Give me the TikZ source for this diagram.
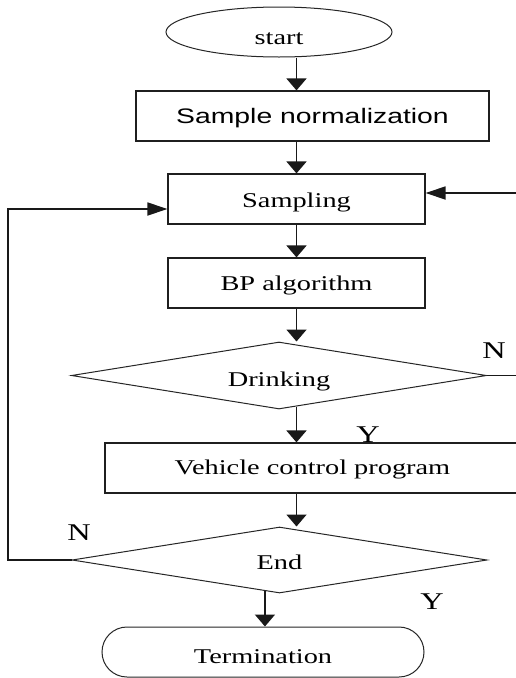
\documentclass[tikz,border=0pt]{standalone}
\usepackage{graphicx}
\usepackage{fontspec}
\setmainfont{Liberation Serif}
\newfontfamily\arialf{Liberation Sans}
\usetikzlibrary{shapes.geometric,arrows.meta,calc}
\newcommand\stx[1]{\scalebox{1.35}[1]{#1}}
\newcommand\blt[2]{\raisebox{-#1pt}[0pt][0pt]{\stx{#2}}}
\begin{document}
\begin{tikzpicture}[x=1pt,y=-1pt,
  txt/.style={font=\fontsize{21}{24}\selectfont, text=black},
  box/.style={draw=black!88, line width=1.2pt, rectangle, minimum height=50pt, inner sep=0pt, txt},
  oval/.style={draw=black!85, line width=1pt, ellipse, inner sep=0pt, txt},
  stadium/.style={draw=black!85, line width=1pt, rectangle, rounded corners=25pt, minimum height=50pt, inner sep=0pt, txt},
  decis/.style={draw=black!85, line width=1pt, diamond, aspect=6.2, inner sep=0pt, txt},
  lab/.style={font=\fontsize{24}{26}\selectfont, text=black, inner sep=0pt},
  varr/.style={draw=black!90, line width=1.8pt, -{Triangle[width=20pt,length=12pt]}},
  harr/.style={draw=black!90, line width=1.8pt, -{Triangle[width=13pt,length=20pt]}}]
\useasboundingbox (0,0) rectangle (516,678);
\clip (0,0) rectangle (516,678);
\fill[white] (0,0) rectangle (516,678);

% nodes
\node[oval, minimum width=226pt, minimum height=50pt] (start) at (279,32) {\blt{12}{start}};
\node[box, minimum width=353pt] (norm) at (312.5,116) {\arialf\blt{7}{Sample normalization}};
\node[box, minimum width=257pt] (samp) at (296.5,199) {\blt{8}{Sampling}};
\node[box, minimum width=257pt] (bp) at (296.5,283) {\blt{7}{BP algorithm}};
\node[decis, minimum width=415pt, minimum height=67pt] (drink) at (279,375.5) {\blt{11}{Drinking}};
\node[box, minimum width=415pt] (veh) at (312.5,468) {\blt{6}{Vehicle control program}};
\node[decis, minimum width=415pt, minimum height=66pt] (end) at (279.5,560) {\blt{9}{End}};
\node[stadium, minimum width=322pt] (term) at (263,652) {\blt{11}{Termination}};

% labels
\node[lab] (n1) at (494,351) {\stx{N}};
\node[lab] (y1) at (368,435) {\stx{Y}};
\node[lab] (n2) at (79,533) {\stx{N}};
\node[lab] (y2) at (432,602) {\stx{Y}};

% helper coordinates
\coordinate (d1) at ($(drink.south)!0.084!(drink.east)$);
\coordinate (e1) at ($(end.south)!0.07!(end.west)$);
\coordinate (lc) at (8,209);
\coordinate (rc) at (540,193);

% connectors
\draw[varr] (samp.north |- start.south) -- (samp.north |- norm.north);
\draw[varr] (samp.north |- norm.south) -- (samp.north);
\draw[varr] (samp.south) -- (bp.north);
\draw[varr] (bp.south) -- (drink.north -| bp.south);
\draw[varr] (d1) -- (d1 |- veh.north);
\draw[varr] (veh.south -| bp.south) -- (end.north -| bp.south);
\draw[varr] (e1) -- (e1 |- term.north);
\draw[harr] (end.west) -| (lc) -- (lc -| samp.west);
\draw[harr] (drink.east) -| (rc) -- (rc -| samp.east);
\end{tikzpicture}
\end{document}
